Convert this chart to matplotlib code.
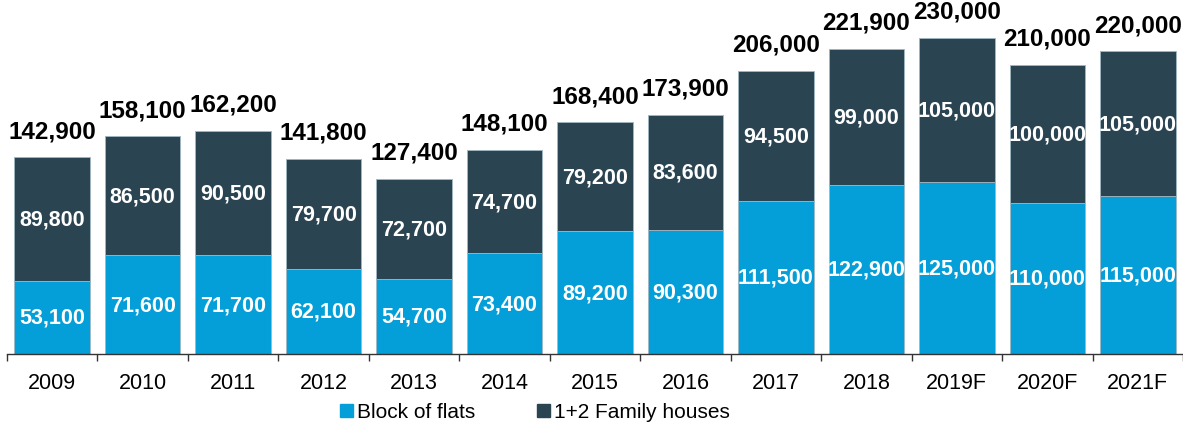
import matplotlib
matplotlib.use("Agg")
import matplotlib.pyplot as plt
from matplotlib.patches import Patch
import numpy as np

years = ["2009", "2010", "2011", "2012", "2013", "2014", "2015", "2016",
         "2017", "2018", "2019F", "2020F", "2021F"]
flats = [53100, 71600, 71700, 62100, 54700, 73400, 89200, 90300,
         111500, 122900, 125000, 110000, 115000]
houses = [89800, 86500, 90500, 79700, 72700, 74700, 79200, 83600,
          94500, 99000, 105000, 100000, 105000]
totals = [142900, 158100, 162200, 141800, 127400, 148100, 168400, 173900,
          206000, 221900, 230000, 210000, 220000]

c_flats = "#049FD9"
c_houses = "#2A4452"

plt.rcParams['font.family'] = ['Liberation Sans', 'DejaVu Sans']

fig = plt.figure(figsize=(11.83, 4.27), dpi=100)
ax = fig.add_axes([7/1183, (427-355)/427, 1 - 7/1183, 355/427])

x = np.arange(len(years))
w = 0.835
ax.bar(x, flats, w, color=c_flats, edgecolor="#9fb8c4", linewidth=0.6)
ax.bar(x, houses, w, bottom=flats, color=c_houses, edgecolor="#9fb8c4", linewidth=0.6)

def fmt(v):
    return f"{v:,}"

for i in range(len(years)):
    ax.text(x[i], flats[i] / 2, fmt(flats[i]), ha="center", va="center",
            color="white", fontsize=15.5, fontweight="bold")
    ax.text(x[i], flats[i] + houses[i] / 2, fmt(houses[i]), ha="center", va="center",
            color="white", fontsize=15.5, fontweight="bold")
    ax.annotate(fmt(totals[i]), (x[i], flats[i] + houses[i]), xytext=(0, 11),
                textcoords="offset points", ha="center", va="bottom",
                color="black", fontsize=17.5, fontweight="bold",
                annotation_clip=False)

ax.set_xlim(-0.5, 12.423)
ax.set_ylim(0, 258000)
for s in ["top", "right", "left"]:
    ax.spines[s].set_visible(False)
ax.spines["bottom"].set_color("#333333")
ax.spines["bottom"].set_linewidth(1.0)
ax.set_yticks([])
ax.set_xticks(np.arange(-0.5, 13, 1.0))
ax.set_xticklabels([])
ax.set_xticks(x, minor=True)
ax.set_xticklabels(years, minor=True, fontsize=15.5)
ax.tick_params(axis="x", which="major", length=5, width=1, color="#333333", direction="out")
ax.tick_params(axis="x", which="minor", length=0, pad=13)

handles = [Patch(color=c_flats, label="Block of flats"),
           Patch(color=c_houses, label="1+2 Family houses")]
fig.legend(handles=handles, loc="center", bbox_to_anchor=(535/1183, 1 - 413/427),
           ncol=2, frameon=False, fontsize=15, handlelength=0.6, handleheight=0.6,
           handletextpad=0.2, columnspacing=3.0, borderpad=0)

fig.savefig("out.png", dpi=100)
